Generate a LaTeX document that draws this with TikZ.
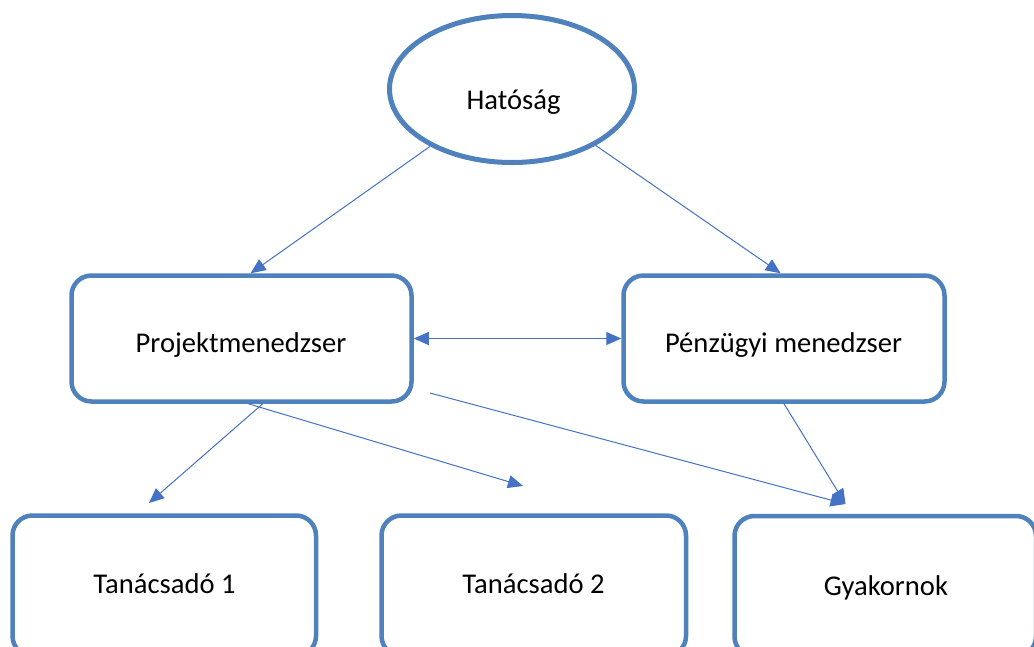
\documentclass[tikz,border=0pt]{standalone}
\usepackage{fontspec}
\setmainfont{Carlito}
\usetikzlibrary{shapes.geometric,arrows.meta}
\definecolor{boxblue}{RGB}{79,129,189}
\definecolor{arrowblue}{RGB}{68,114,196}
\tikzset{
  boxnode/.style={draw=boxblue, line width=4.5pt, rounded corners=20pt, rectangle, inner sep=0pt, fill=white},
  ellnode/.style={draw=boxblue, line width=5pt, ellipse, inner sep=0pt, fill=white},
  lbl/.style={anchor=base, inner sep=0pt, font=\fontsize{28.6}{34}\selectfont, text=black},
  conn/.style={draw=arrowblue, line width=1pt, -{Triangle[length=15pt,width=13pt]}},
  dconn/.style={draw=arrowblue, line width=1pt, {Triangle[length=15pt,width=13pt]}-{Triangle[length=15pt,width=13pt]}}
}
\begin{document}
\begin{tikzpicture}[x=1pt,y=-1pt]
\useasboundingbox (0,0) rectangle (1034,646);
\clip (0,0) rectangle (1034,646);
\fill[white] (0,0) rectangle (1034,646);
% nodes
\node[ellnode, minimum width=245pt, minimum height=147pt] (hat) at (512,89) {};
\node[lbl] (hatt) at (513.5,109) {Hatóság};
\node[boxnode, minimum width=340pt, minimum height=126pt] (proj) at (241.5,338.5) {};
\node[lbl] (projt) at (241,352.7) {Projektmenedzser};
\node[boxnode, minimum width=321pt, minimum height=126pt] (pen) at (784,338.5) {};
\node[lbl] (pent) at (783.5,352.7) {Pénzügyi menedzser};
\node[boxnode, minimum width=303.5pt, minimum height=140.5pt] (t1) at (164.25,585.75) {};
\node[lbl] (t1t) at (164.5,593) {Tanácsadó 1};
\node[boxnode, minimum width=304.5pt, minimum height=140.5pt] (t2) at (533.75,585.75) {};
\node[lbl] (t2t) at (533.5,593) {Tanácsadó 2};
\node[boxnode, minimum width=301.5pt, minimum height=140.5pt] (gy) at (885.25,586.25) {};
\node[lbl] (gyt) at (886,595) {Gyakornok};
% free ends
\coordinate (t1in) at (149,503);
\coordinate (t2in) at (523,486);
\coordinate (gyin) at (845.5,504);
\coordinate (projout) at (430,393);
% connectors
\draw[conn] (hat.215) -- (proj.82);
\draw[conn] (hat.-34) -- (pen.93.5);
\draw[dconn] (proj.east) -- (pen.west);
\draw[conn] (proj.-72.6) -- (t1in);
\draw[conn] (proj.-84.3) -- (t2in);
\draw[conn] (projout) -- (gyin);
\draw[conn] (pen.south) -- (gyin);
\end{tikzpicture}
\end{document}
